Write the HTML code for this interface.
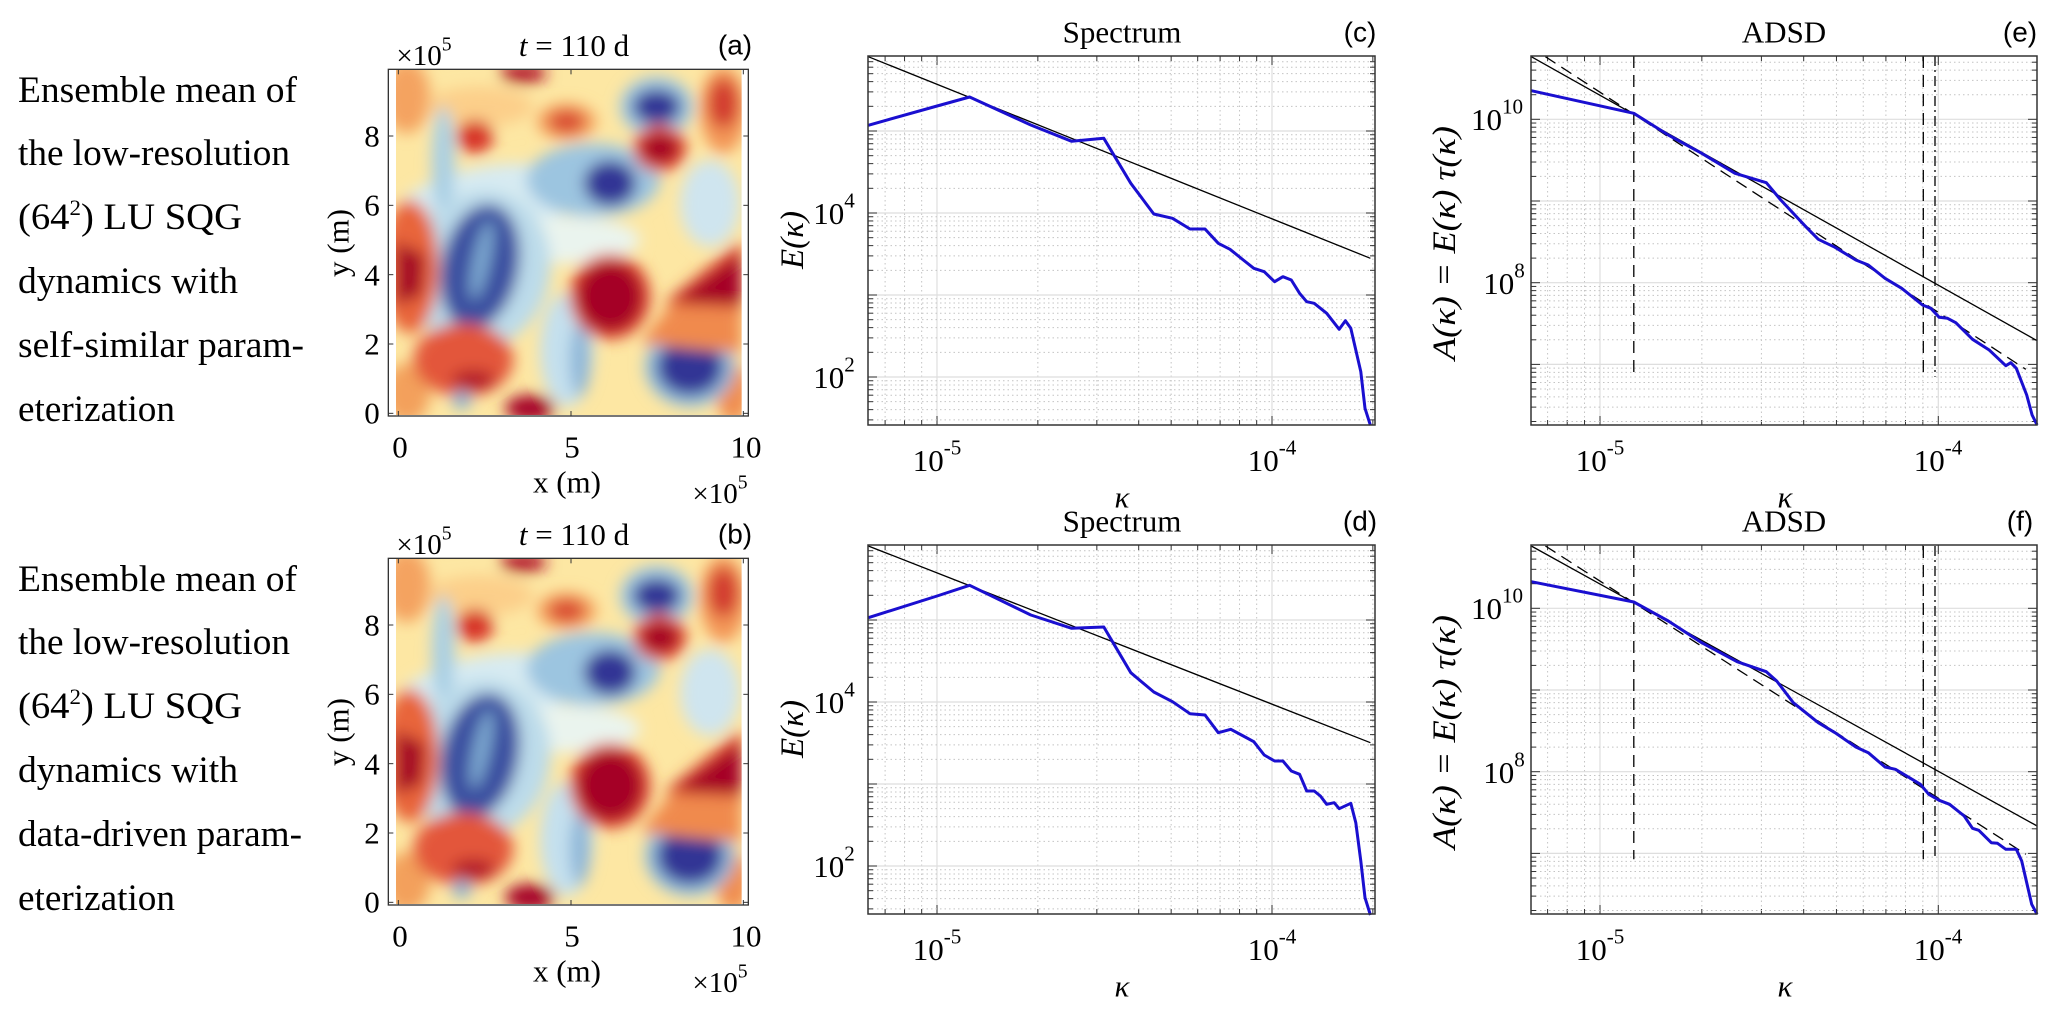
<!DOCTYPE html>
<html><head><meta charset="utf-8"><style>
html,body{margin:0;padding:0;background:#fff;}
svg{display:block;font-family:"Liberation Serif",serif;}
</style></head><body>
<svg id="s" width="2060" height="1011" viewBox="0 0 2060 1011" xmlns="http://www.w3.org/2000/svg">
<defs>
<filter id="bl" x="-20%" y="-20%" width="140%" height="140%"><feGaussianBlur stdDeviation="22"/></filter>
<clipPath id="hc"><rect x="48" y="30" width="1037" height="1035"/></clipPath>
</defs>
<g id="root"></g>
</svg>
<script>
const NS="http://www.w3.org/2000/svg";
const root=document.getElementById('root');
function el(tag,attrs,parent,text){const e=document.createElementNS(NS,tag);for(const k in attrs)e.setAttribute(k,attrs[k]);if(text!==undefined)e.textContent=text;(parent||root).appendChild(e);return e;}
function txt(x,y,s,size,anchor,parent,extra){const a={x:x,y:y,'font-size':size,'text-anchor':anchor||'middle','dominant-baseline':'central',fill:'#000'};if(extra)for(const k in extra)a[k]=extra[k];return el('text',a,parent,s);}
function pow(x,y,base,exp,size,anchor){const t=el('text',{x:x,y:y,'font-size':size,'text-anchor':anchor||'middle','dominant-baseline':'central'});
  el('tspan',{},t,base);el('tspan',{dy:-size*0.4,'font-size':size*0.68},t,exp);return t;}

const L1=[["Ensemble mean of",279],["the low-resolution",272],["(64²) LU SQG",224],["dynamics with",220],["self-similar param-",286],["eterization",157]];
const L2=[["Ensemble mean of",279],["the low-resolution",272],["(64²) LU SQG",224],["dynamics with",220],["data-driven param-",284],["eterization",157]];
const bases=[102,165,229,293,357,421];
function leftText(lines,oy){lines.forEach((l,i)=>{
  if(l[0].startsWith("(64")){const t=el('text',{x:18,y:bases[i]+oy,'font-size':37,textLength:l[1],lengthAdjust:'spacingAndGlyphs'});
    el('tspan',{},t,"(64");el('tspan',{dy:-14,'font-size':22},t,"2");el('tspan',{dy:14},t,") LU SQG");}
  else el('text',{x:18,y:bases[i]+oy,'font-size':37,textLength:l[1],lengthAdjust:'spacingAndGlyphs'},root,l[0]);});}
leftText(L1,0);leftText(L2,489);

function heat(oy,lab){
  const g=el('g',{transform:`translate(380,${60+oy}) scale(0.3333333)`});
  const c=el('g',{'clip-path':'url(#hc)'},g);
  el('rect',{x:48,y:30,width:1037,height:1035,fill:'#fde7a3'},c);
  const b=el('g',{filter:'url(#bl)'},c);
  const E=(cx,cy,rx,ry,f,r)=>el('ellipse',{cx,cy,rx,ry,fill:f,transform:r?`rotate(${r} ${cx} ${cy})`:''},b);
  const P=(pts,f)=>el('polygon',{points:pts,fill:f},b);
  E(80,110,70,110,'#f4a361');E(300,140,160,60,'#fccf8a');
  E(80,1000,70,90,'#f3a05c');E(1060,1000,50,90,'#f08d4f');
  E(320,430,280,110,'#d7ebf2',-10);E(560,540,220,70,'#eaf4ee');E(990,430,90,130,'#cfe5ef');
  E(190,310,35,170,'#a9cfe4');
  E(300,630,210,240,'#bcdbea',15);
  E(300,620,115,190,'#3b4fa0',12);E(305,600,25,120,'#7eaad2',12);
  E(640,360,200,110,'#9cc5e0');E(690,370,78,68,'#313695');
  E(830,140,110,90,'#9cc5e0');E(830,140,72,52,'#313695');
  E(560,870,80,170,'#c4e0ee');E(600,900,30,110,'#8db6d8');
  E(930,920,135,120,'#8fbadb');E(930,920,98,85,'#313695');
  P("1085,540 850,730 1085,760","#e0452f");
  P("870,735 1085,745 1085,880 780,850","#f08a4e");
  E(690,710,122,128,'#e0452f');E(690,710,98,105,'#a50026');
  P("1085,575 880,725 1085,735","#a50026");
  E(90,620,85,200,'#e8653a');P("48,545 135,585 125,705 48,735","#a50026");
  E(840,265,80,70,'#e34a33');E(840,265,58,45,'#a50026');
  E(285,230,55,50,'#d73027');
  E(560,185,90,55,'#f5a25f');E(560,185,55,35,'#d94a30');
  E(430,40,70,30,'#b2182b');
  E(1030,150,70,130,'#f39556');E(1030,130,45,75,'#d23a2d');
  E(250,900,150,110,'#e3573a');E(280,960,65,30,'#b2182b');
  E(450,1045,75,40,'#a50026');
  E(245,1020,28,28,'#7fb0d6');
  el('rect',{x:25,y:28,width:1080,height:1040,fill:'none',stroke:'#333','stroke-width':4},g);
  [228,436,644,852,1060].forEach(y=>{el('line',{x1:25,y1:y,x2:40,y2:y,stroke:'#333','stroke-width':3},g);el('line',{x1:1105,y1:y,x2:1090,y2:y,stroke:'#333','stroke-width':3},g);});
  [55,573,1090].forEach(x=>{el('line',{x1:x,y1:1068,x2:x,y2:1053,stroke:'#333','stroke-width':3},g);el('line',{x1:x,y1:28,x2:x,y2:43,stroke:'#333','stroke-width':3},g);});
  [["8",136],["6",205],["4",275],["2",344],["0",413]].forEach(a=>txt(372,a[1]+oy,a[0],31));
  [["0",400],["5",572],["10",746]].forEach(a=>txt(a[1],447+oy,a[0],31));
  txt(567,482+oy,"x (m)",31);
  txt(338,243+oy,"y (m)",31,'middle',null,{transform:`rotate(-90 338 ${243+oy})`});
  pow(424,56+oy,"×10","5",29);pow(720,494+oy,"×10","5",29);
  const t=el('text',{x:574,y:45+oy,'font-size':31,'text-anchor':'middle','dominant-baseline':'central'});
  el('tspan',{'font-style':'italic'},t,"t");el('tspan',{},t," = 110 d");
  txt(735,45+oy,lab,28,'middle',null,{'font-family':'Liberation Sans, sans-serif'});
}
heat(0,"(a)");heat(489,"(b)");

function logpanel(c){
  const g=el('g',{});
  const {L,R,T,B,x5,xdec,yr,yv,ydec}=c;
  const xp=lg=>x5+(lg+5)*xdec, yp=lg=>yr-(lg-yv)*ydec;
  for(let d=-6;d<=-4;d++)for(let m=1;m<=9;m++){const x=xp(d+Math.log10(m));if(x<L+1||x>R-1)continue;
    if(m==1)el('line',{x1:x,y1:T,x2:x,y2:B,stroke:'#dedede','stroke-width':1.2},g);
    else el('line',{x1:x,y1:T,x2:x,y2:B,stroke:'#c4c4c4','stroke-width':1,'stroke-dasharray':'1.5 3'},g);
    const tl=m==1?9:5;el('line',{x1:x,y1:B,x2:x,y2:B-tl,stroke:'#333'},g);el('line',{x1:x,y1:T,x2:x,y2:T+tl,stroke:'#333'},g);}
  for(let d=0;d<=12;d++)for(let m=1;m<=9;m++){const y=yp(d+Math.log10(m));if(y<T+1||y>B-1)continue;
    if(m==1)el('line',{x1:L,y1:y,x2:R,y2:y,stroke:'#dedede','stroke-width':1.2},g);
    else el('line',{x1:L,y1:y,x2:R,y2:y,stroke:'#c4c4c4','stroke-width':1,'stroke-dasharray':'1.5 3'},g);
    const tl=m==1?9:5;el('line',{x1:L,y1:y,x2:L+tl,y2:y,stroke:'#333'},g);el('line',{x1:R,y1:y,x2:R-tl,y2:y,stroke:'#333'},g);}
  return g;
}
function frame(c){el('rect',{x:c.L,y:c.T,width:c.R-c.L,height:c.B-c.T,fill:'none',stroke:'#333','stroke-width':1.5});}
function pts(arr,ox,oy){return arr.map(p=>(ox+p[0]/2.4).toFixed(1)+","+(oy+p[1]/3).toFixed(1)).join(" ");}
function line(arr,ox,oy,attrs){const a={points:pts(arr,ox,oy),fill:'none'};for(const k in attrs)a[k]=attrs[k];el('polyline',a);}

const cC=[[260,376],[425,318],[503,291],[650,375],[748,424],[825,415],[890,550],[945,642],[990,655],[1032,687],[1068,687],[1100,730],[1128,748],[1160,780],[1185,805],[1210,815],[1235,845],[1255,830],[1275,840],[1295,880],[1312,905],[1330,910],[1360,940],[1390,988],[1405,962],[1418,985],[1442,1115],[1452,1225],[1465,1276]];
const cD=[[260,380],[425,315],[503,283],[650,372],[748,412],[825,408],[890,545],[945,603],[990,632],[1032,668],[1068,672],[1100,725],[1130,715],[1160,735],[1185,752],[1210,792],[1235,810],[1255,810],[1275,840],[1295,850],[1312,900],[1330,900],[1345,915],[1360,940],[1378,935],[1390,953],[1418,937],[1430,995],[1442,1110],[1452,1220],[1465,1272]];
const cE=[[291,272],[537,340],[620,405],[700,460],[780,520],[855,548],[890,600],[950,680],[980,718],[1020,742],[1070,780],[1100,795],[1140,835],[1180,865],[1230,915],[1250,925],[1270,952],[1290,955],[1310,968],[1350,1018],[1390,1050],[1430,1097],[1442,1088],[1455,1105],[1480,1185],[1493,1245],[1505,1275]];
const cF=[[291,272],[537,333],[620,390],[700,455],[785,512],[855,542],[880,570],[920,635],[980,695],[1020,725],[1070,768],[1100,785],[1140,828],[1165,835],[1225,880],[1245,910],[1270,928],[1295,940],[1330,975],[1350,1012],[1365,1018],[1395,1055],[1410,1057],[1430,1075],[1455,1075],[1468,1110],[1492,1240],[1505,1270]];

function spec(oy,lab,curve,bl,zoy){
  const c={L:868,R:1375,T:56+oy,B:425+oy,x5:937,xdec:335,yr:213+oy,yv:4,ydec:82};
  logpanel(c);
  line(bl,760,zoy,{stroke:'#000','stroke-width':1.3});
  line(curve,760,zoy,{stroke:'#1a0fd0','stroke-width':3,'stroke-linejoin':'round'});
  frame(c);
  pow(834,213+oy,"10","4",31);pow(834,377+oy,"10","2",31);
  pow(937,460+oy,"10","-5",31);pow(1272,460+oy,"10","-4",31);
  txt(1122,497+oy,"κ",31,'middle',null,{'font-style':'italic'});
  txt(1122,32+oy,"Spectrum",31);
  txt(1360,32+oy,lab,28,'middle',null,{'font-family':'Liberation Sans, sans-serif'});
  const t=el('text',{x:793,y:240+oy,'font-size':33,'text-anchor':'middle','dominant-baseline':'central',transform:`rotate(-90 793 ${240+oy})`,'font-style':'italic'});
  t.textContent="E(κ)";
}
spec(0,"(c)",cC,[[260,170],[1465,775]],0);
spec(489,"(d)",cD,[[260,165],[1465,755]],491);

function adsd(oy,lab,curve,sol,das,vt,vb,zoy){
  const c={L:1531,R:2037,T:56+oy,B:425+oy,x5:1600,xdec:338.3,yr:119.3+oy,yv:10,ydec:81.7};
  logpanel(c);
  line(sol,1410,zoy,{stroke:'#000','stroke-width':1.3});
  line(das,1410,zoy,{stroke:'#000','stroke-width':1.3,'stroke-dasharray':'12 7'});
  [[537,'12 7'],[1232,'12 7'],[1260,'10 4 2 4']].forEach(v=>line([[v[0],vt],[v[0],vb]],1410,zoy,{stroke:'#000','stroke-width':1.3,'stroke-dasharray':v[1]}));
  line(curve,1410,zoy,{stroke:'#1a0fd0','stroke-width':3,'stroke-linejoin':'round'});
  frame(c);
  pow(1497,119+oy,"10","10",31);pow(1504,283+oy,"10","8",31);
  pow(1600,460+oy,"10","-5",31);pow(1938,460+oy,"10","-4",31);
  txt(1785,497+oy,"κ",31,'middle',null,{'font-style':'italic'});
  txt(1784,32+oy,"ADSD",31);
  txt(2020,32+oy,lab,28,'middle',null,{'font-family':'Liberation Sans, sans-serif'});
  el('text',{x:1445,y:243+oy,'font-size':33,'text-anchor':'middle','dominant-baseline':'central',transform:`rotate(-90 1445 ${243+oy})`,'font-style':'italic',textLength:234,lengthAdjust:'spacingAndGlyphs'},root,"A(κ) = E(κ)  τ(κ)");
}
adsd(0,"(e)",cE,[[291,170],[1505,1022]],[[325,170],[1478,1108]],168,1130,0);
adsd(489,"(f)",cF,[[291,165],[1505,1005]],[[325,165],[1478,1090]],165,1105,491);
</script>
</body></html>
